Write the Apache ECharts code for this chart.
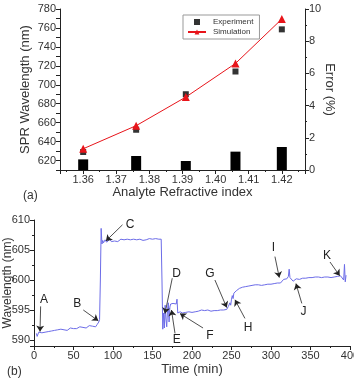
<!DOCTYPE html>
<html>
<head>
<meta charset="utf-8">
<script src="https://cdn.jsdelivr.net/npm/echarts@6/dist/echarts.min.js"></script>
<style>
html, body { margin: 0; padding: 0; background: #fff; }
#main { width: 354px; height: 378px; }
</style>
</head>
<body>
<div id="main"></div>
<script>
// (a) SPR wavelength vs analyte refractive index
var riIndex = [1.360, 1.376, 1.391, 1.406, 1.420];
var experimentNm = [629, 652.5, 690, 714, 758.5];
var simulationNm = [632.4, 656.8, 687, 722.5, 769.4];
var errorPct = [0.66, 0.87, 0.56, 1.14, 1.43];

// (b) wavelength shift over time
var timeMin = [3, 4, 5, 6, 7, 8, 10, 12, 14, 16, 18, 20, 22, 24, 26, 28, 30, 32, 34, 36,
    38, 40, 42, 44, 46, 48, 50, 52, 54, 56, 58, 60, 62, 64, 66, 68, 70, 72, 74, 76,
    78, 80, 82, 83, 84, 85, 86, 87, 88, 90, 92, 94, 96, 98, 100, 102, 104, 106, 108, 110,
    112, 114, 116, 118, 120, 122, 124, 126, 128, 130, 132, 134, 136, 138, 140, 142, 144, 146, 148, 150,
    152, 154, 156, 158, 160, 161, 162, 163, 164, 165, 166, 167, 168, 169, 170, 171, 172, 173, 174, 176,
    178, 180, 181, 182, 183, 185, 188, 190, 192, 194, 196, 198, 200, 202, 204, 206, 208, 210, 212, 214,
    216, 218, 220, 222, 224, 226, 228, 230, 232, 234, 236, 238, 240, 242, 244, 246, 248, 249, 250, 251,
    252, 253, 254, 256, 258, 260, 262, 264, 266, 268, 270, 272, 274, 276, 278, 280, 282, 284, 286, 288,
    290, 292, 294, 296, 298, 300, 302, 304, 306, 308, 310, 312, 314, 316, 318, 320, 322, 323, 324, 326,
    328, 330, 332, 334, 336, 338, 340, 342, 344, 346, 348, 350, 352, 354, 356, 358, 360, 362, 364, 366,
    368, 370, 372, 374, 376, 378, 380, 382, 384, 386, 388, 390, 392, 393, 394, 395];
var shiftNm = [591.1, 590.6, 590.9, 591.3, 591.5, 591.0, 591.2, 591.0, 591.3, 591.1, 591.4, 591.2, 591.5, 591.3, 591.6, 591.4, 591.7, 591.5, 591.8, 591.6,
    591.7, 591.9, 591.6, 591.8, 592.0, 591.8, 591.9, 592.1, 591.9, 592.0, 592.2, 591.9, 592.1, 592.3, 592.0, 592.2, 592.4, 592.1, 592.3, 592.5,
    592.2, 592.6, 593.0, 593.4, 600.0, 608.6, 606.0, 606.6, 606.2, 606.7, 606.3, 606.5, 606.8, 606.4, 606.6, 606.5, 606.7, 606.4, 606.6, 606.8,
    606.5, 606.7, 606.6, 606.8, 606.5, 606.7, 606.6, 606.8, 606.6, 606.7, 606.5, 606.8, 606.7, 606.6, 606.8, 606.7, 606.6, 606.9, 606.7, 606.8,
    606.7, 606.9, 606.8, 606.8, 606.9, 606.8, 600.0, 591.8, 594.5, 592.0, 595.8, 593.5, 592.2, 595.0, 596.2, 593.0, 595.5, 596.0, 595.8, 596.1,
    595.9, 596.0, 596.8, 594.5, 594.4, 594.7, 594.5, 594.8, 594.6, 594.8, 594.7, 594.9, 594.6, 594.8, 594.7, 594.9, 594.8, 594.7, 595.0, 594.8,
    594.9, 594.7, 595.0, 594.9, 594.8, 595.1, 594.9, 595.0, 594.9, 595.1, 595.0, 595.1, 595.0, 595.2, 595.1, 595.6, 596.2, 595.8, 596.8, 597.4,
    596.9, 597.8, 597.5, 598.2, 598.3, 598.6, 598.5, 598.8, 598.7, 598.9, 598.8, 599.0, 598.9, 599.1, 599.0, 599.2, 599.1, 599.2, 599.3, 599.1,
    599.3, 599.2, 599.4, 599.3, 599.4, 599.3, 599.5, 599.4, 599.3, 599.5, 599.4, 599.5, 599.8, 600.1, 600.0, 600.2, 600.6, 601.8, 600.4, 600.2,
    599.8, 599.6, 600.2, 600.3, 600.1, 600.4, 600.3, 600.5, 600.3, 600.5, 600.4, 600.6, 600.4, 600.6, 600.5, 600.7, 600.5, 600.6, 600.4, 600.6,
    600.5, 600.7, 600.5, 600.6, 600.4, 600.6, 600.5, 600.3, 600.6, 600.4, 600.7, 600.9, 600.0, 602.6, 599.7, 600.8];

// annotation letters: label position, arrow tail, arrow tip  [time, nm]
var noteLetters = ['A', 'B', 'C', 'D', 'E', 'F', 'G', 'H', 'I', 'J', 'K'];
var notePos = [[12.7, 596.8], [54.8, 596.1], [121.5, 609.3], [180.6, 601.1], [180.6, 590], [222.8, 590.8],
    [222.8, 601.1], [271, 592], [303, 605.4], [341, 594.7], [371, 604]];
var arrowTail = [[8.4, 595.6], [62.4, 595], [112, 609.2], [175, 600.3], [178.5, 591.1], [214, 592],
    [229, 600], [267, 593.6], [305, 603.9], [339, 596.1], [374.7, 603]];
var arrowTip = [[7.6, 591.4], [81.4, 593.2], [91, 606.5], [165.8, 594.4], [174, 595], [184.8, 594.4],
    [244, 595.4], [254.4, 596.7], [310.5, 600.4], [331.6, 599.4], [387, 600.7]];

var FONT = 'Liberation Sans, Arial, sans-serif';
var myChart = echarts.init(document.getElementById('main'));

function zip(a, b) {
    var out = [];
    for (var i = 0; i < a.length; i++) out.push([a[i], b[i]]);
    return out;
}

var arrowLines = [], letterPoints = [];
for (var i = 0; i < noteLetters.length; i++) {
    arrowLines.push([{ coord: arrowTail[i] }, { coord: arrowTip[i] }]);
    letterPoints.push({ coord: notePos[i], value: noteLetters[i] });
}

var axisCommon = {
    nameMoveOverlap: false,
    axisLine: { show: true, onZero: false, lineStyle: { color: '#222', width: 1 } },
    axisTick: { show: true, inside: false, length: 4, lineStyle: { color: '#222' } },
    minorTick: { show: true, splitNumber: 2, length: 2, lineStyle: { color: '#222' } },
    axisLabel: { color: '#333', fontSize: 11, fontFamily: FONT, margin: 4 },
    splitLine: { show: false },
    nameTextStyle: { color: '#333', fontSize: 13, fontFamily: FONT }
};

function ax(extra) {
    return echarts.util.merge(echarts.util.clone(axisCommon), extra, true);
}

var option = {
    animation: false,
    backgroundColor: '#fff',
    title: [
        { text: '(a)', left: 18, top: 185, textStyle: { fontSize: 12, fontWeight: 'normal', color: '#333', fontFamily: FONT } },
        { text: '(b)', left: 2, top: 361, textStyle: { fontSize: 12, fontWeight: 'normal', color: '#333', fontFamily: FONT } }
    ],
    legend: {
        data: [
            { name: 'Experiment', icon: 'path://M0,0h1v1h-1z', itemStyle: { color: '#000' } },
            { name: 'Simulation' }
        ],
        left: 183, top: 15,
        orient: 'vertical',
        itemGap: 2, itemWidth: 18, itemHeight: 6,
        padding: [3, 6, 3, 4],
        borderColor: '#999', borderWidth: 1,
        textStyle: { fontSize: 8, fontFamily: FONT, color: '#333', padding: [0, 0, 0, 2] }
    },
    grid: [
        { left: 60, right: 49, top: 9, height: 161, outerBoundsMode: 'none', containLabel: false },
        { left: 34, right: 4, top: 220, height: 126, outerBoundsMode: 'none', containLabel: false }
    ],
    xAxis: [
        ax({
            type: 'value', gridIndex: 0, min: 1.353, max: 1.427, splitNumber: 8,
            minInterval: 0.01, maxInterval: 0.01,
            axisLabel: { showMinLabel: false, showMaxLabel: false, formatter: function (v) { return v.toFixed(2); } },
            name: 'Analyte Refractive index', nameLocation: 'middle', nameGap: 16
        }),
        ax({
            type: 'value', gridIndex: 1, min: 0, max: 400, interval: 50,
            name: 'Time (min)', nameLocation: 'middle', nameGap: 17
        })
    ],
    yAxis: [
        ax({
            type: 'value', gridIndex: 0, min: 610, max: 780, interval: 10,
            minorTick: { show: false },
            axisLabel: { formatter: function (v) { return v % 20 === 0 ? String(v) : ''; } },
            name: 'SPR Wavelength (nm)', nameLocation: 'middle', nameGap: 28
        }),
        ax({
            type: 'value', gridIndex: 0, position: 'right', min: 0, max: 10, interval: 2,
            name: 'Error (%)', nameLocation: 'middle', nameGap: 18, nameRotate: -90
        }),
        ax({
            type: 'value', gridIndex: 1, min: 589, max: 610, splitNumber: 4,
            minInterval: 5, maxInterval: 5,
            axisLabel: { showMinLabel: false },
            name: 'Wavelength (nm)', nameLocation: 'middle', nameGap: 20,
            nameTextStyle: { fontSize: 12 }
        })
    ],
    series: [
        {
            name: 'Error', type: 'bar', xAxisIndex: 0, yAxisIndex: 1,
            data: zip(riIndex, errorPct), barWidth: 10,
            itemStyle: { color: '#000' }
        },
        {
            name: 'Simulation', type: 'line', xAxisIndex: 0, yAxisIndex: 0,
            data: zip(riIndex, simulationNm),
            symbol: 'triangle', symbolSize: 8,
            lineStyle: { color: '#e8141a', width: 1 },
            itemStyle: { color: '#e8141a' }
        },
        {
            name: 'Experiment', type: 'scatter', xAxisIndex: 0, yAxisIndex: 0,
            data: zip(riIndex, experimentNm),
            symbol: 'rect', symbolSize: 6,
            itemStyle: { color: '#000' }
        },
        {
            name: 'Shift', type: 'line', xAxisIndex: 1, yAxisIndex: 2,
            data: zip(timeMin, shiftNm), showSymbol: false,
            lineStyle: { color: '#6c6ce8', width: 1 },
            markLine: {
                silent: true, symbol: ['none', 'arrow'], symbolSize: 6,
                label: { show: false },
                lineStyle: { color: '#222', width: 0.8, type: 'solid' },
                data: arrowLines
            },
            markPoint: {
                silent: true, symbol: 'circle', symbolSize: 1,
                itemStyle: { color: 'rgba(0,0,0,0)' },
                label: { show: true, position: 'inside', color: '#222', fontSize: 12, fontFamily: FONT,
                    formatter: function (p) { return p.value; } },
                data: letterPoints
            }
        }
    ]
};

myChart.setOption(option);
</script>
</body>
</html>
